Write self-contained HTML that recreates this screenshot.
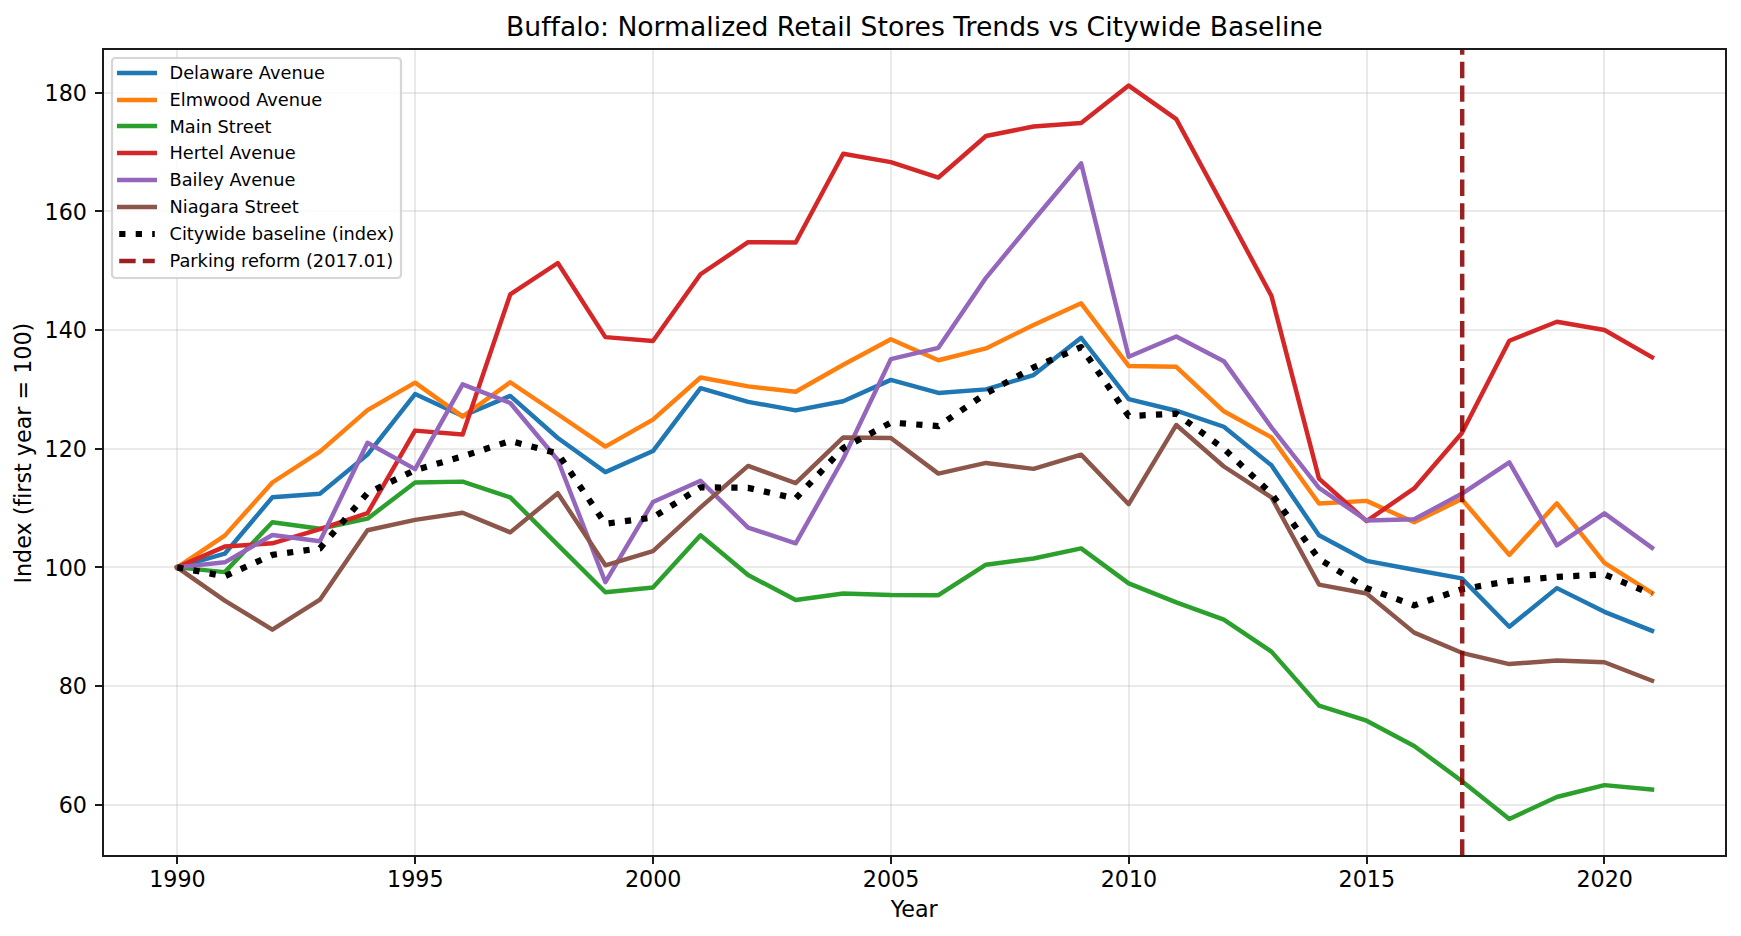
<!DOCTYPE html><html><head><meta charset="utf-8"><title>Buffalo: Normalized Retail Stores Trends vs Citywide Baseline</title>
<style>html,body{margin:0;padding:0;background:#fff;overflow:hidden;}svg{display:block;}text{font-family:'DejaVu Sans', 'Liberation Sans', sans-serif;fill:#000;font-variant-ligatures:none;font-feature-settings:"liga" 0,"clig" 0;}</style></head><body>
<svg width="1741" height="936" viewBox="0 0 1741 936">
<rect x="0" y="0" width="1741" height="936" fill="#ffffff"/>
<defs><clipPath id="ax"><rect x="103.46" y="48.90" width="1622.31" height="806.70"/></clipPath></defs>
<path d="M177.0 49.0V856.0M415.0 49.0V856.0M653.0 49.0V856.0M891.0 49.0V856.0M1129.0 49.0V856.0M1367.0 49.0V856.0M1604.0 49.0V856.0" stroke="#b0b0b0" stroke-opacity="0.3" stroke-width="1.778" fill="none"/>
<path d="M103.0 805.0H1726.0M103.0 686.0H1726.0M103.0 567.0H1726.0M103.0 449.0H1726.0M103.0 330.0H1726.0M103.0 211.0H1726.0M103.0 93.0H1726.0" stroke="#b0b0b0" stroke-opacity="0.267" stroke-width="1.778" fill="none"/>
<g clip-path="url(#ax)" fill="none" stroke-linejoin="round">
<polyline points="177.20,567.36 224.78,553.71 272.35,497.34 319.93,493.78 367.50,454.62 415.08,394.10 462.65,416.06 510.23,395.88 557.80,438.01 605.38,472.13 652.95,451.06 700.53,388.17 748.10,401.82 795.68,410.42 843.25,401.22 890.83,379.86 938.40,392.92 985.98,389.36 1033.55,375.12 1081.13,337.74 1128.70,399.15 1176.28,410.72 1223.85,426.74 1271.43,465.30 1319.00,535.32 1366.58,560.83 1414.15,569.73 1461.73,578.33 1509.30,626.69 1556.88,588.12 1604.45,611.86 1652.03,630.84" stroke="#1f77b4" stroke-width="4.444" stroke-linecap="square"/>
<polyline points="177.20,567.36 224.78,535.61 272.35,482.51 319.93,451.66 367.50,410.12 415.08,382.65 462.65,416.65 510.23,382.24 557.80,414.28 605.38,446.61 652.95,419.62 700.53,377.49 748.10,386.39 795.68,391.73 843.25,364.73 890.83,339.22 938.40,360.28 985.98,348.42 1033.55,324.98 1081.13,303.32 1128.70,365.92 1176.28,366.81 1223.85,411.31 1271.43,437.42 1319.00,503.57 1366.58,500.90 1414.15,522.26 1461.73,499.12 1509.30,554.90 1556.88,503.28 1604.45,562.91 1652.03,592.87" stroke="#ff7f0e" stroke-width="4.444" stroke-linecap="square"/>
<polyline points="177.20,567.36 224.78,572.10 272.35,522.26 319.93,528.79 367.50,518.70 415.08,482.51 462.65,481.62 510.23,497.34 557.80,544.81 605.38,592.28 652.95,587.53 700.53,535.32 748.10,575.07 795.68,599.99 843.25,593.46 890.83,594.95 938.40,595.24 985.98,564.69 1033.55,558.46 1081.13,548.37 1128.70,583.38 1176.28,602.36 1223.85,619.57 1271.43,651.61 1319.00,705.60 1366.58,720.73 1414.15,745.95 1461.73,780.96 1509.30,818.93 1556.88,796.98 1604.45,785.11 1652.03,789.56" stroke="#2ca02c" stroke-width="4.444" stroke-linecap="square"/>
<polyline points="177.20,567.36 224.78,546.59 272.35,543.33 319.93,529.09 367.50,513.07 415.08,430.59 462.65,434.45 510.23,294.42 557.80,262.98 605.38,337.14 652.95,341.00 700.53,274.25 748.10,242.21 795.68,242.51 843.25,153.80 890.83,162.11 938.40,177.54 985.98,136.00 1033.55,126.51 1081.13,122.95 1128.70,85.57 1176.28,119.09 1223.85,207.20 1271.43,295.91 1319.00,478.65 1366.58,521.08 1414.15,488.44 1461.73,433.26 1509.30,340.70 1556.88,321.72 1604.45,330.02 1652.03,357.32" stroke="#d62728" stroke-width="4.444" stroke-linecap="square"/>
<polyline points="177.20,567.36 224.78,562.31 272.35,535.02 319.93,541.25 367.50,442.76 415.08,469.16 462.65,384.31 510.23,403.00 557.80,459.96 605.38,582.19 652.95,502.09 700.53,480.73 748.10,527.60 795.68,543.33 843.25,458.78 890.83,359.10 938.40,347.82 985.98,277.81 1033.55,220.26 1081.13,163.30 1128.70,356.72 1176.28,336.55 1223.85,361.17 1271.43,427.33 1319.00,487.85 1366.58,520.48 1414.15,519.30 1461.73,493.78 1509.30,462.34 1556.88,545.40 1604.45,513.36 1652.03,547.78" stroke="#9467bd" stroke-width="4.444" stroke-linecap="square"/>
<polyline points="177.20,567.36 224.78,600.58 272.35,629.66 319.93,599.69 367.50,530.27 415.08,519.89 462.65,512.77 510.23,532.35 557.80,493.19 605.38,565.28 652.95,551.04 700.53,507.43 748.10,465.90 795.68,483.10 843.25,437.42 890.83,438.01 938.40,473.61 985.98,462.93 1033.55,468.86 1081.13,454.62 1128.70,504.17 1176.28,424.96 1223.85,466.49 1271.43,497.34 1319.00,584.56 1366.58,593.46 1414.15,632.62 1461.73,652.80 1509.30,664.07 1556.88,660.51 1604.45,662.29 1652.03,680.68" stroke="#8c564b" stroke-width="4.444" stroke-linecap="square"/>
<polyline points="177.20,567.36 224.78,576.26 272.35,554.90 319.93,548.37 367.50,493.19 415.08,470.05 462.65,456.40 510.23,440.98 557.80,453.44 605.38,523.75 652.95,517.52 700.53,487.26 748.10,487.85 795.68,498.53 843.25,448.10 890.83,422.58 938.40,426.14 985.98,393.51 1033.55,367.40 1081.13,347.23 1128.70,416.06 1176.28,413.68 1223.85,448.69 1271.43,493.78 1319.00,559.05 1366.58,588.12 1414.15,605.33 1461.73,589.31 1509.30,581.00 1556.88,576.85 1604.45,574.48 1652.03,594.06" stroke="#000" stroke-width="6.222" stroke-dasharray="6.222 10.267" stroke-linecap="butt"/>
<path d="M1462.20 855.60V48.90" stroke="#8b0000" stroke-opacity="0.87" stroke-width="4.444" stroke-dasharray="16.444 7.111"/>
</g>
<path d="M103.0 49.0V856.0M1726.0 49.0V856.0" stroke="#000" stroke-width="1.778" stroke-linecap="square" fill="none"/>
<path d="M102.1 49.0H1726.9M102.1 856.0H1726.9" stroke="#1b1b1b" stroke-width="1.778" fill="none"/>
<path d="M177.0 857.0V864.0M415.0 857.0V864.0M653.0 857.0V864.0M891.0 857.0V864.0M1129.0 857.0V864.0M1367.0 857.0V864.0M1604.0 857.0V864.0" stroke="#000" stroke-width="1.778"/>
<path d="M102.0 805.0H95.0M102.0 686.0H95.0M102.0 567.0H95.0M102.0 449.0H95.0M102.0 330.0H95.0M102.0 211.0H95.0M102.0 93.0H95.0" stroke="#1b1b1b" stroke-width="1.778"/>
<text x="177.45" y="887.45" font-size="22.222" text-anchor="middle">1990</text>
<text x="415.33" y="887.45" font-size="22.222" text-anchor="middle">1995</text>
<text x="653.20" y="887.45" font-size="22.222" text-anchor="middle">2000</text>
<text x="891.08" y="887.45" font-size="22.222" text-anchor="middle">2005</text>
<text x="1128.95" y="887.45" font-size="22.222" text-anchor="middle">2010</text>
<text x="1366.83" y="887.45" font-size="22.222" text-anchor="middle">2015</text>
<text x="1604.70" y="887.45" font-size="22.222" text-anchor="middle">2020</text>
<text x="87.00" y="813.05" font-size="22.222" text-anchor="end">60</text>
<text x="87.00" y="694.38" font-size="22.222" text-anchor="end">80</text>
<text x="87.00" y="575.72" font-size="22.222" text-anchor="end">100</text>
<text x="87.00" y="457.05" font-size="22.222" text-anchor="end">120</text>
<text x="87.00" y="338.38" font-size="22.222" text-anchor="end">140</text>
<text x="87.00" y="219.72" font-size="22.222" text-anchor="end">160</text>
<text x="87.00" y="101.05" font-size="22.222" text-anchor="end">180</text>
<text x="914.15" y="916.54" font-size="22.222" text-anchor="middle">Year</text>
<text transform="translate(31.2 453.13) rotate(-90)" x="0" y="0" font-size="22.222" text-anchor="middle">Index (first year = 100)</text>
<text x="914.32" y="35.5" font-size="26.635" text-anchor="middle">Buffalo: Normalized Retail Stores Trends vs Citywide Baseline</text>
<rect x="112.00" y="58.00" width="289.00" height="220.00" rx="3.56" ry="3.56" fill="#ffffff" fill-opacity="0.8" stroke="#cccccc" stroke-opacity="0.8" stroke-width="2.222"/>
<path d="M119.22 73.00H154.78" stroke="#1f77b4" stroke-width="4.444" stroke-linecap="square"/>
<text x="169.5" y="79.00" font-size="17.778">Delaware Avenue</text>
<path d="M119.22 100.00H154.78" stroke="#ff7f0e" stroke-width="4.444" stroke-linecap="square"/>
<text x="169.5" y="106.00" font-size="17.778">Elmwood Avenue</text>
<path d="M119.22 126.00H154.78" stroke="#2ca02c" stroke-width="4.444" stroke-linecap="square"/>
<text x="169.5" y="133.00" font-size="17.778">Main Street</text>
<path d="M119.22 153.00H154.78" stroke="#d62728" stroke-width="4.444" stroke-linecap="square"/>
<text x="169.5" y="159.00" font-size="17.778">Hertel Avenue</text>
<path d="M119.22 180.00H154.78" stroke="#9467bd" stroke-width="4.444" stroke-linecap="square"/>
<text x="169.5" y="186.00" font-size="17.778">Bailey Avenue</text>
<path d="M119.22 207.00H154.78" stroke="#8c564b" stroke-width="4.444" stroke-linecap="square"/>
<text x="169.5" y="213.00" font-size="17.778">Niagara Street</text>
<path d="M119.22 234.00H154.78" stroke="#000" stroke-width="6.222" stroke-dasharray="6.222 10.267"/>
<text x="169.5" y="240.00" font-size="17.778">Citywide baseline (index)</text>
<path d="M119.22 261.00H154.78" stroke="#8b0000" stroke-opacity="0.87" stroke-width="4.444" stroke-dasharray="16.444 7.111"/>
<text x="169.5" y="267.00" font-size="17.778">Parking reform (2017.01)</text>
</svg></body></html>
